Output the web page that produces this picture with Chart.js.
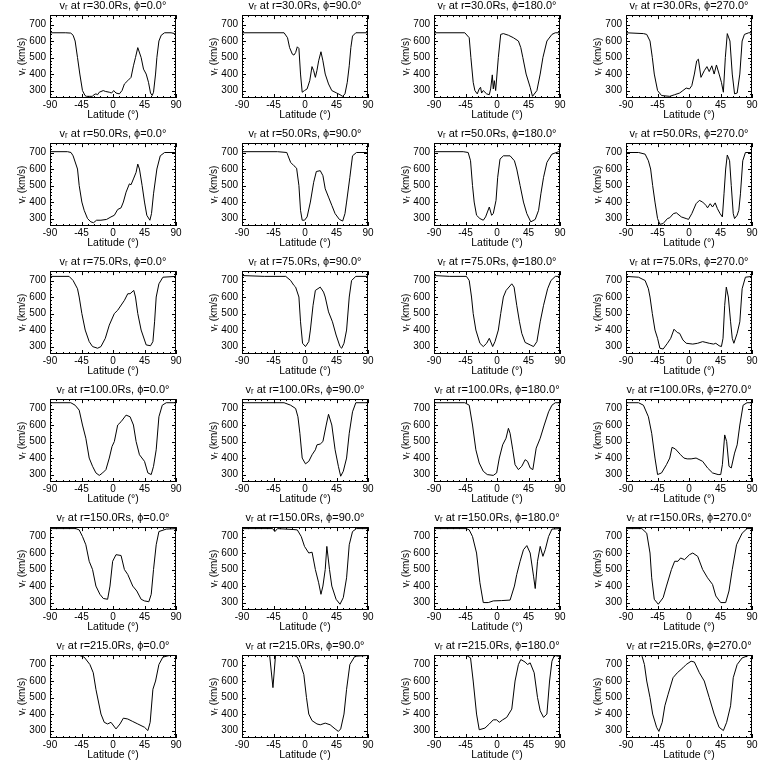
<!DOCTYPE html>
<html><head><meta charset="utf-8">
<script src="https://cdn.jsdelivr.net/npm/chart.js@4.4.0/dist/chart.umd.min.js"></script>
<style>
html,body{margin:0;padding:0;background:#fff;}
#wrap{position:relative;width:768px;height:768px;background:#fff;}
canvas{position:absolute;}
</style></head><body><div id="wrap"></div>
<script>
const radii = [30, 50, 75, 100, 150, 215];
const phis = [0, 90, 180, 270];
const latTicks = [-90, -45, 0, 45, 90];
const vTicks = [300, 400, 500, 600, 700];
const latRange = [-90, 90];
const vRange = [255, 757];

// [latitude (deg), v_r (km/s)]
const r30_phi0 = [[-90,650],[-67.5,650],[-60.3,648],[-57,635],[-54.1,600],[-50.7,500],[-47.4,400],[-43.6,300],[-40,270],[-37.8,265],[-33,265],[-29.7,265],[-27,275],[-24.4,280],[-22,275],[-19.6,290],[-13.9,300],[-11,295],[-5.3,290],[-2,285],[1,300],[4.3,285],[9.1,280],[12.9,300],[16.3,340],[21.1,360],[25.8,380],[29.2,450],[32.1,500],[35.4,560],[40.2,500],[43.6,430],[47.4,400],[50.7,350],[53.6,285],[56,270],[57.9,290],[60.8,400],[62.7,500],[65.6,600],[68.9,635],[73.7,650],[83,650],[88,645],[90,650]];
const r30_phi90 = [[-90,650],[-29.9,650],[-25,620],[-22,560],[-18,520],[-15.8,515],[-13.4,530],[-11,565],[-8.7,555],[-6.4,400],[-4,290],[-0.7,300],[3,310],[6.8,360],[10,445],[12.4,420],[14.8,380],[17,420],[19.5,480],[22.8,535],[25.6,480],[28.9,400],[33.6,340],[38.3,300],[45.3,285],[50,275],[53.8,265],[57.1,280],[60.4,350],[63.2,450],[65.5,560],[67.9,630],[72.6,650],[90,650]];
const r30_phi180 = [[-90,650],[-46,650],[-39.7,620],[-37.3,500],[-34,350],[-31.6,300],[-28.2,280],[-25.4,310],[-23.5,320],[-22,285],[-19.6,300],[-14.8,280],[-11,275],[-9.1,310],[-6.7,395],[-5.3,310],[-3.8,360],[-1.9,300],[1.9,500],[5.3,640],[9.1,645],[16.3,635],[23.4,620],[30.6,600],[34,560],[36.9,500],[41.6,400],[47.4,320],[50.7,265],[57,300],[61.7,400],[65.6,500],[71.3,600],[78.5,640],[83.3,650],[90,650]];
const r30_phi270 = [[-90,650],[-65,645],[-60.4,640],[-55.7,600],[-52.4,500],[-49.6,400],[-44.9,300],[-39.2,270],[-27.5,265],[-20.5,275],[-13.4,285],[-8.7,300],[-4,315],[0.7,310],[4,330],[7.7,400],[11,480],[13.4,490],[17.1,380],[21.8,420],[25.6,445],[28.9,415],[32.6,450],[35.9,400],[39.2,455],[43,400],[46.3,350],[49.1,290],[51.9,500],[54.7,645],[58.5,600],[61.8,400],[65.1,280],[68.8,285],[72.6,400],[75.9,600],[79.2,640],[85.3,650],[90,650]];

const r50_phi0 = [[-90,705],[-65,705],[-60,700],[-57,680],[-50.7,600],[-48.3,500],[-44.5,400],[-41.2,350],[-36.4,300],[-31.6,280],[-27.8,275],[-23.5,290],[-17.2,290],[-9.1,295],[-2.9,310],[1.9,320],[6.7,355],[11.5,365],[14.8,400],[18.7,460],[23.4,510],[25.8,505],[29.2,540],[33,580],[35.4,630],[37.8,600],[41.6,500],[45,400],[48.3,320],[52.7,290],[55,330],[57.9,450],[62.7,600],[67.5,680],[73.7,700],[90,700]];
const r50_phi90 = [[-90,705],[-39.2,705],[-26,700],[-24.2,680],[-20.5,640],[-15.8,620],[-12,605],[-8.7,500],[-6.4,350],[-4,290],[-0.7,290],[3,310],[7.7,400],[12.4,520],[16.2,585],[21.8,590],[25.6,560],[28.9,480],[33.6,430],[38.3,380],[43,330],[49.1,295],[53.8,285],[57.1,330],[59.4,400],[64.1,550],[67.9,680],[73.5,700],[90,700]];
const r50_phi180 = [[-90,705],[-48.3,705],[-41.2,700],[-37.8,650],[-35,500],[-32.6,400],[-29.2,320],[-24.4,300],[-19.6,290],[-16.3,310],[-11,370],[-7.7,320],[-5.3,330],[-1.4,410],[1,550],[4.3,660],[9.1,680],[18.7,680],[24.9,650],[28.2,600],[33,500],[37.8,400],[42.6,330],[48.3,280],[54.6,295],[59.4,350],[62.7,450],[66.5,550],[71.3,640],[78.5,690],[88,705],[90,705]];
const r50_phi270 = [[-90,700],[-72,700],[-62.7,690],[-58,650],[-54.8,600],[-51.9,500],[-48.6,400],[-44.9,300],[-41.6,265],[-36.9,270],[-30.8,300],[-27.5,305],[-22.3,330],[-18.1,335],[-11,310],[-4,300],[-0.7,295],[4,330],[10.1,390],[14.8,410],[19.5,400],[24.2,380],[26.5,365],[30.3,390],[33.6,370],[37.4,395],[40.6,360],[44.4,330],[47.7,310],[50,450],[52.4,600],[54.7,685],[58,650],[60.4,500],[63.2,330],[65.1,300],[68.8,320],[71.2,350],[73.5,450],[76.8,650],[80.6,700],[90,700]];

const r75_phi0 = [[-90,725],[-62.7,725],[-57,700],[-50.7,650],[-48.3,600],[-44.5,500],[-39.7,400],[-34,330],[-29.2,300],[-22,290],[-17.2,300],[-11,350],[-5.3,430],[1.9,500],[6.7,520],[16.3,580],[21.1,620],[24.4,620],[29.7,640],[32.1,600],[35.4,500],[40.2,400],[47.4,310],[53.6,305],[57,330],[59.4,450],[61.7,600],[65.6,680],[71.3,720],[90,725]];
const r75_phi90 = [[-90,730],[-58,725],[-27.5,725],[-20.5,700],[-15.8,670],[-13.4,660],[-8.7,600],[-6.4,450],[-3.5,320],[0.7,300],[5.4,330],[7.7,400],[11.5,550],[14.8,640],[21.8,660],[26.5,630],[28.9,600],[33.6,510],[39.2,450],[44.4,370],[50,300],[52.4,290],[55.7,320],[59.4,400],[63.2,600],[66.5,700],[72.6,725],[90,725]];
const r75_phi180 = [[-90,730],[-67.5,725],[-43.6,725],[-39.7,700],[-36.4,600],[-34,500],[-30.2,400],[-24.4,320],[-19.6,300],[-14.8,320],[-11,350],[-6.2,300],[-2.9,330],[1.9,400],[5.3,500],[9.1,600],[13,640],[21.1,680],[24.4,660],[28.2,550],[32.1,450],[35.4,380],[40.2,325],[47.4,310],[52.2,300],[57,330],[61.7,450],[66.5,550],[72.3,650],[77.1,700],[83.3,725],[90,725]];
const r75_phi270 = [[-90,725],[-72.1,720],[-62.7,700],[-58,650],[-55.7,600],[-52.4,500],[-48.6,400],[-44.9,350],[-41.6,290],[-36.9,285],[-30.8,320],[-26.1,350],[-21.4,405],[-16.7,385],[-13.4,380],[-8.7,340],[-4,320],[5.4,315],[12.4,320],[19.5,330],[24.2,325],[28.9,320],[35,315],[38.3,320],[43,305],[46.3,300],[48.6,350],[51,550],[53.3,660],[56.2,600],[59.4,450],[61.8,350],[64.1,320],[68.8,380],[72.6,450],[75.9,650],[80.6,720],[90,725]];

const r100_phi0 = [[-90,735],[-60.3,735],[-54.1,720],[-48.3,690],[-43.6,600],[-38.8,520],[-34,400],[-29.2,350],[-24.4,310],[-19.6,295],[-14.8,310],[-10.1,330],[-5.3,400],[-1.4,470],[1.9,500],[6.7,600],[11.5,620],[18.7,660],[24.4,650],[29.2,600],[33,500],[37.8,420],[45,380],[49.8,310],[54.6,300],[57.9,350],[61.7,450],[65.6,650],[70.4,720],[76.1,735],[90,735]];
const r100_phi90 = [[-90,735],[-29.9,735],[-20.5,720],[-13.4,700],[-10.1,650],[-7.3,550],[-4,400],[0.7,365],[5.4,380],[10.1,420],[14.8,450],[17.1,480],[21.8,485],[25.6,500],[30.3,600],[33.6,665],[38.3,600],[43,450],[47.7,350],[51,290],[54.7,320],[59.4,400],[63.2,550],[67.9,680],[72.6,735],[90,735]];
const r100_phi180 = [[-90,735],[-46,735],[-39.7,720],[-35,600],[-30.2,450],[-25.4,370],[-19.6,320],[-13.9,300],[-5.3,295],[-0.5,310],[3.3,400],[8.1,480],[12.9,520],[16.3,580],[18.7,550],[22.5,450],[25.8,360],[30.6,330],[35.4,350],[40.2,390],[43.6,380],[47.4,340],[51.2,330],[56,460],[61.7,520],[67.5,600],[73.7,680],[78.5,720],[83.3,735],[90,735]];
const r100_phi270 = [[-90,735],[-72.1,735],[-65.1,720],[-58,650],[-53.3,550],[-48.6,400],[-44.9,300],[-39.2,310],[-32.2,360],[-27.5,400],[-24.2,465],[-19.5,455],[-12,420],[-7.3,400],[-2.6,395],[3,395],[10.1,400],[19.5,380],[26.5,340],[33.6,310],[41.6,300],[45.3,300],[47.7,360],[51,540],[53.8,500],[57.1,350],[60.4,340],[65.1,430],[68.8,480],[72.6,600],[77.3,720],[82.9,735],[90,735]];

const r150_phi0 = [[-90,748],[-53.1,748],[-48.3,740],[-43.6,700],[-38.8,650],[-34,550],[-29.2,500],[-24.4,400],[-18.7,350],[-13.9,325],[-7.7,320],[-4.3,400],[-0.5,550],[4.3,590],[11.5,585],[16.3,500],[21.1,470],[28.2,400],[34,370],[40.2,320],[45,310],[51.2,305],[54.6,350],[57.9,500],[61.7,650],[65.6,730],[76.1,745],[90,748]];
const r150_phi90 = [[-90,748],[-46.3,748],[-43,730],[-39.2,748],[-15.8,742],[-11,740],[-5.4,700],[-0.7,640],[5.4,600],[10.1,605],[14.8,500],[19.5,420],[22.8,350],[25.6,400],[28.9,500],[31.2,640],[35,500],[38.3,400],[44.4,320],[50,290],[54.7,330],[59.4,450],[63.2,650],[67.9,730],[73.5,748],[90,748]];
const r150_phi180 = [[-90,748],[-43.6,748],[-39.7,740],[-35,700],[-29.2,600],[-24.4,420],[-19.6,300],[-12.5,300],[-5.3,310],[6.7,312],[18.7,315],[24.9,400],[28.2,470],[33,550],[37.8,620],[42.6,645],[47.4,600],[52.2,460],[54.6,385],[57.9,550],[61.7,640],[65.6,580],[68.9,620],[73.7,700],[78.5,745],[90,748]];
const r150_phi270 = [[-90,748],[-67.4,748],[-60.4,720],[-55.7,600],[-53.3,450],[-49.6,320],[-43.9,290],[-36.9,330],[-32.2,400],[-25.1,500],[-20.5,550],[-15.8,550],[-12,570],[-6.4,560],[0.7,590],[5.4,600],[12.4,580],[19.5,500],[26.5,450],[33.6,410],[38.3,340],[45.3,300],[52.4,300],[57.1,370],[61.8,500],[67.9,650],[75.9,720],[82.9,748],[90,748]];

const r215_phi0 = [[-90,755],[-48.3,755],[-41.2,745],[-33,700],[-28.2,650],[-24.4,550],[-17.2,400],[-12.5,350],[-7.7,340],[-2.9,350],[4.3,310],[10,340],[14.8,375],[21.1,370],[28.2,355],[35.4,340],[45,320],[49.8,300],[53.1,350],[57,550],[60.8,600],[65.6,700],[71.3,745],[80.9,755],[90,755]];
const r215_phi90 = [[-90,755],[-50.5,755],[-45.8,560],[-42.1,755],[-15.8,755],[-11,745],[-6.4,700],[-1.7,640],[2.1,500],[5.4,400],[10.1,360],[17.1,340],[21.8,335],[28.9,345],[35.9,335],[43,310],[47.7,295],[51,310],[55.7,400],[59.4,550],[64.1,700],[71.2,750],[90,755]];
const r215_phi180 = [[-90,755],[-43.6,755],[-37.8,740],[-34,600],[-29.2,400],[-25.4,305],[-17.2,315],[-11,340],[-5.3,365],[-0.5,365],[3.3,350],[8.1,365],[13.9,380],[21.1,430],[25.8,600],[30.6,700],[34,730],[40.2,715],[43.6,700],[47.4,710],[53.1,650],[57.9,500],[61.7,420],[66.5,380],[71.3,400],[75.1,600],[78.5,720],[81.9,755],[88,750],[90,755]];
const r215_phi270 = [[-90,755],[-67.4,755],[-63.7,700],[-60.4,600],[-55.7,500],[-51.9,400],[-46.3,320],[-43,295],[-38.3,350],[-34.5,450],[-29.8,520],[-22.8,620],[-16.7,650],[-8.7,680],[-4,700],[3,720],[7.7,715],[14.8,650],[21.8,600],[28.9,500],[35.9,400],[43,320],[49.1,300],[53.8,350],[59.4,450],[63.2,620],[68.8,700],[75.9,740],[85.3,755],[90,755]];

const panels = [
  [r30_phi0, r30_phi90, r30_phi180, r30_phi270],
  [r50_phi0, r50_phi90, r50_phi180, r50_phi270],
  [r75_phi0, r75_phi90, r75_phi180, r75_phi270],
  [r100_phi0, r100_phi90, r100_phi180, r100_phi270],
  [r150_phi0, r150_phi90, r150_phi180, r150_phi270],
  [r215_phi0, r215_phi90, r215_phi180, r215_phi270]
];

Chart.defaults.font.family = "'Liberation Sans', 'DejaVu Sans', sans-serif";
Chart.defaults.color = '#000';

const boxTicks = {
  id: 'boxTicks',
  afterDatasetsDraw(chart) {
    const {ctx, chartArea: a, scales: {x, y}} = chart;
    ctx.save();
    ctx.strokeStyle = '#000';
    ctx.lineWidth = 1;
    ctx.strokeRect(Math.round(a.left) + 0.5, Math.round(a.top) + 0.5,
                   Math.round(a.right - a.left) - 1, Math.round(a.bottom - a.top) - 1);
    ctx.beginPath();
    for (let v = latRange[0]; v <= latRange[1]; v += 9) {
      const px = Math.round(x.getPixelForValue(v)) + 0.5;
      const L = (v % 45 === 0) ? 4 : 2;
      ctx.moveTo(px, a.bottom); ctx.lineTo(px, a.bottom - L);
      ctx.moveTo(px, a.top); ctx.lineTo(px, a.top + L);
    }
    for (let v = 260; v <= vRange[1]; v += 20) {
      const py = Math.round(y.getPixelForValue(v)) + 0.5;
      const L = (v % 100 === 0) ? 4 : 2;
      ctx.moveTo(a.left, py); ctx.lineTo(a.left + L, py);
      ctx.moveTo(a.right, py); ctx.lineTo(a.right - L, py);
    }
    ctx.stroke();
    ctx.restore();
  }
};

const wrap = document.getElementById('wrap');
radii.forEach((r, ri) => {
  phis.forEach((phi, ci) => {
    const cv = document.createElement('canvas');
    cv.width = 192; cv.height = 128;
    cv.style.left = (192 * ci) + 'px';
    cv.style.top = (128 * ri) + 'px';
    wrap.appendChild(cv);
    const pts = panels[ri][ci].map(p => ({x: p[0], y: p[1]}));
    new Chart(cv, {
      type: 'line',
      data: {datasets: [{data: pts, borderColor: '#000', borderWidth: 1, pointRadius: 0, tension: 0, fill: false}]},
      options: {
        responsive: false, animation: false, devicePixelRatio: 1,
        parsing: false,
        layout: {padding: {left: 0, right: 16, top: 0, bottom: 0}},
        plugins: {
          legend: {display: false}, tooltip: {enabled: false},
          title: {display: true, fullSize: false, text: 'vᵣ at r=' + r.toFixed(1) + 'Rs, ϕ=' + phi.toFixed(1) + '°',
                  font: {size: 11, weight: 'normal', lineHeight: 1.1}, color: '#000', padding: {top: 0, bottom: 3}}
        },
        scales: {
          x: {type: 'linear', min: latRange[0], max: latRange[1],
              afterBuildTicks: s => { s.ticks = latTicks.map(v => ({value: v})); },
              afterFit: s => { s.height = 30; },
              ticks: {font: {size: 10}, color: '#000', padding: 1, maxRotation: 0, autoSkip: false},
              grid: {display: false, drawTicks: false}, border: {display: false},
              title: {display: true, text: 'Latitude (°)', font: {size: 10.5}, color: '#000', padding: {top: 0, bottom: 7}}},
          y: {type: 'linear', min: vRange[0], max: vRange[1],
              afterBuildTicks: s => { s.ticks = vTicks.map(v => ({value: v})); },
              afterFit: s => { s.width = 50; },
              ticks: {font: {size: 10}, color: '#000', padding: 4, autoSkip: false},
              grid: {display: false, drawTicks: false}, border: {display: false},
              title: {display: true, text: 'vᵣ (km/s)', font: {size: 10}, color: '#000', padding: {top: 16, bottom: 0}}}
        }
      },
      plugins: [boxTicks]
    });
  });
});
</script></body></html>
